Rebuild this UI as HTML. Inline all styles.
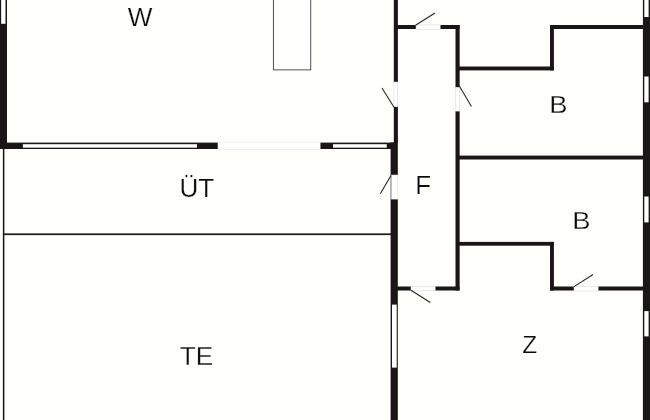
<!DOCTYPE html>
<html>
<head>
<meta charset="utf-8">
<title>Floor plan</title>
<style>
html,body{margin:0;padding:0;background:#fefffa;}
body{width:650px;height:420px;overflow:hidden;position:relative;font-family:"Liberation Sans",sans-serif;}
svg{will-change:transform;position:absolute;left:0;top:0;display:block;}
.w{fill:#1a1617;}
.o{fill:#ffffff;}
.d{stroke:#242021;stroke-width:1.05;fill:none;stroke-linecap:butt;}
.t{font-family:"Liberation Sans",sans-serif;fill:#0c0a0a;stroke:#fefffa;stroke-width:0.25px;}
</style>
</head>
<body>
<svg width="650" height="420" viewBox="0 0 650 420">
  <rect x="0" y="0" width="650" height="420" fill="#fefffa"/>

  <!-- kitchen island outline -->
  <rect x="273.45" y="-2" width="37.25" height="71.85" fill="#fffffd" stroke="#55514f" stroke-width="1"/>

  <!-- left outer wall -->
  <rect class="w" x="0" y="0" width="7" height="149"/>
  <rect class="o" x="1.15" y="-1" width="4.35" height="24.8"/>

  <!-- horizontal wall W / ÜT -->
  <rect class="w" x="0" y="142.6" width="218" height="6.4"/>
  <rect class="o" x="22.9" y="144.2" width="174.1" height="3.5"/>
  <rect x="218" y="142" width="102.5" height="7.6" fill="#ffffff" stroke="#e4e4e0" stroke-width="0.6"/>
  <rect class="w" x="320.5" y="142.6" width="73.5" height="6.4"/>
  <rect class="o" x="333" y="144.2" width="53.7" height="3.5"/>

  <!-- thin terrace lines -->
  <rect class="w" x="2.85" y="148.9" width="1.55" height="272"/>
  <rect class="w" x="3" y="233.4" width="388" height="1.7"/>

  <!-- central vertical wall (upper, thin) -->
  <rect class="w" x="393.8" y="0" width="4.1" height="82.1"/>
  <rect x="394" y="82" width="3.7" height="25" fill="#ffffff" stroke="#d8d8d4" stroke-width="0.5"/>
  <rect class="w" x="393.8" y="106.9" width="4.1" height="36.1"/>
  <!-- central vertical wall (lower, thick) -->
  <rect class="w" x="390.6" y="142.5" width="7.2" height="32.6"/>
  <rect x="391" y="175" width="6.5" height="24.5" fill="#ffffff" stroke="#e4e4e0" stroke-width="0.5"/>
  <rect x="390.6" y="175" width="0.7" height="24.5" fill="#4a4647"/>
  <rect class="w" x="390.6" y="199.4" width="7.2" height="220.6"/>
  <rect class="o" x="392" y="304.6" width="4.7" height="63"/>

  <!-- top horizontal wall y=27 with door -->
  <rect class="w" x="397" y="25" width="19" height="4"/>
  <rect x="416" y="24.9" width="24.5" height="4.4" fill="#ffffff" stroke="#d8d8d4" stroke-width="0.5"/>
  <rect class="w" x="440.5" y="25" width="19" height="4"/>

  <!-- vertical wall x=457.5 -->
  <rect class="w" x="455.5" y="25" width="4.15" height="62.4"/>
  <rect x="455.8" y="87.4" width="3.5" height="24" fill="#ffffff" stroke="#d8d8d4" stroke-width="0.5"/>
  <rect class="w" x="455.5" y="111.4" width="4.15" height="179.1"/>

  <!-- notch upper -->
  <rect class="w" x="459" y="66.5" width="94.9" height="3.9"/>
  <rect class="w" x="550" y="25" width="3.9" height="45.4"/>
  <rect class="w" x="550" y="25" width="94" height="4"/>

  <!-- wall between B rooms -->
  <rect class="w" x="459" y="155.6" width="185" height="3.9"/>

  <!-- notch lower -->
  <rect class="w" x="459" y="241.9" width="94.9" height="3.8"/>
  <rect class="w" x="550" y="241.9" width="3.9" height="48.6"/>
  <rect class="w" x="550" y="286.5" width="24.2" height="4"/>
  <rect x="574" y="286.4" width="24.5" height="4.6" fill="#ffffff" stroke="#d8d8d4" stroke-width="0.5"/>
  <rect class="w" x="598.5" y="286.5" width="45" height="4"/>

  <!-- bottom of hallway with door -->
  <rect class="w" x="397" y="286.5" width="14" height="4"/>
  <rect x="411" y="286.2" width="24.4" height="4.6" fill="#ffffff" stroke="#d8d8d4" stroke-width="0.5"/>
  <rect class="w" x="435.5" y="286.5" width="24" height="4"/>

  <!-- right outer wall -->
  <rect class="w" x="642.9" y="0" width="7.2" height="420"/>
  <rect class="o" x="644.3" y="-1" width="4.3" height="18"/>
  <rect class="o" x="644.3" y="76.5" width="4.3" height="25.8"/>
  <rect class="o" x="644.3" y="196.5" width="4.3" height="25.9"/>
  <rect class="o" x="644.3" y="311.1" width="4.3" height="25.3"/>

  <!-- door leaves -->
  <line class="d" x1="415.5" y1="25.2" x2="435" y2="13"/>
  <line class="d" x1="394" y1="107.2" x2="382" y2="88"/>
  <line class="d" x1="459" y1="85.5" x2="471.4" y2="106.4"/>
  <line class="d" x1="391" y1="175.6" x2="380.3" y2="193.8"/>
  <line class="d" x1="411" y1="290.3" x2="430.3" y2="302.5"/>
  <line class="d" x1="574" y1="286.6" x2="593" y2="274.5"/>

  <!-- labels -->
  <text class="t" font-size="25.87" transform="translate(127.74,25.73) scale(1.0108,1)">W</text>
  <text class="t" font-size="25.72" transform="translate(179.42,196.62) scale(1.0151,1)">ÜT</text>
  <text class="t" font-size="25.72" transform="translate(179.72,364.62) scale(1.0200,1)">TE</text>
  <text class="t" font-size="24.86" transform="translate(415.29,193.62) scale(1.0469,1)">F</text>
  <text class="t" font-size="24.42" transform="translate(549.28,112.53) scale(1.1213,1)">B</text>
  <text class="t" font-size="24.42" transform="translate(572.28,228.53) scale(1.1213,1)">B</text>
  <text class="t" font-size="24.57" transform="translate(522.14,353.23) scale(0.9955,1)">Z</text>
</svg>
</body>
</html>
